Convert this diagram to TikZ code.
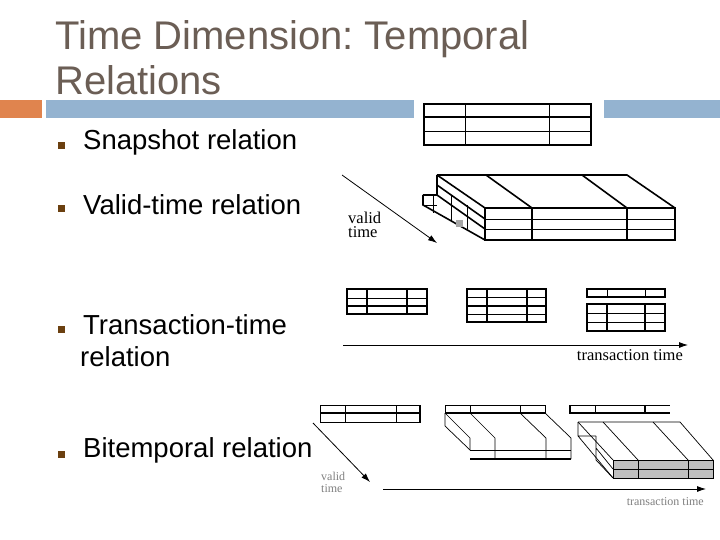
\documentclass[tikz,border=0pt]{standalone}
\usepackage{fontspec}
\setmainfont{Liberation Sans}
\newfontfamily\serifz{Liberation Serif}
\usetikzlibrary{arrows.meta}
\definecolor{titlec}{HTML}{6B5E55}
\definecolor{barblue}{HTML}{94B3D0}
\definecolor{barorange}{HTML}{E0844E}
\definecolor{bulc}{HTML}{6B4010}
\tikzset{
 tb/.style={line width=1.6pt},
 tl/.style={line width=0.7pt},
 bul/.style={fill=bulc,minimum size=7pt,inner sep=0pt},
 item/.style={anchor=west,font=\fontsize{27.5pt}{32pt}\selectfont,align=left,inner sep=0pt},
 lab/.style={font=\serifz\fontsize{16.5pt}{14pt}\selectfont,align=left,inner sep=0pt},
 slab/.style={font=\serifz\fontsize{12pt}{12pt}\selectfont,text=gray,align=left,inner sep=0pt},
 arr/.style={line width=0.8pt,-{Latex[length=9pt,width=6pt]}}
}
\begin{document}
\begin{tikzpicture}[x=1pt,y=-1pt]
\frenchspacing
\useasboundingbox (0,0) rectangle (720,540);
\fill[white] (0,0) rectangle (720,540);
% title
\node[anchor=west,text=titlec,font=\fontsize{40pt}{45pt}\selectfont,align=left,inner sep=0pt] (title) at (55,58) {Time Dimension: Temporal\\Relations};
\fill[barorange] (0,100) rectangle (42,118);
\fill[barblue] (46,100) rectangle (414,118);
\fill[barblue] (604,100) rectangle (720,118);
% bullets
\foreach \y/\t [count=\i] in {142/Snapshot relation,205/Valid-time relation,325/Transaction-time,450/Bitemporal relation}{
 \node[bul] (b\i) at (61,\y+4) {};
 \node[item] (t\i) at (83,\y) {\t};
}
\node[item] (t3b) at (80,357) {relation};
% snapshot table
\draw[tb] (424,104) rectangle (591,145);
\draw[tb] (424,117)--(591,117);
\draw[tl] (424,131)--(591,131);
\draw[tl] (465,104)--(465,145) (549,104)--(549,145);
% valid time relation
\coordinate (va1) at (342,175); \coordinate (va2) at (437,243);
\draw[arr] (va1)--(va2);
\node[lab,anchor=north west] (vl) at (348,212) {valid\\time};
\draw[tb] (485,208) rectangle (675,240);
\draw[tl] (485,219)--(675,219) (485,229)--(675,229);
\draw[tb] (532,208)--(532,240) (627,208)--(627,240);
\draw[tb] (437,175)--(627,175)--(675,208);
\draw[tb] (437,175)--(485,208) (486,175)--(532,208) (582,175)--(627,208);
\draw[tb] (437,175)--(437,195) (437,195)--(485,229) (437,185)--(485,219);
\draw[tb] (423,195) -- (437,195);
\draw[tb] (423,195)--(423,205)--(485,240);
\draw[tl] (423,205)--(437,205);
\draw[tl] (433,195)--(433,213) (451,195)--(451,222) (467,205)--(467,229);
\fill[gray!70] (456,220) rectangle (463,227);
% transaction time relation
\draw[tb] (347,289) rectangle (427,314);
\draw[tb] (347,306)--(427,306); \draw[tl] (347,298)--(427,298);
\draw[tb] (367,289)--(367,314) (407,289)--(407,314);
\draw[tb] (467,289) rectangle (546,322);
\draw[tb] (467,306)--(546,306); \draw[tl] (467,297)--(546,297) (467,314)--(546,314);
\draw[tb] (487,289)--(487,322) (527,289)--(527,322);
\draw[tb] (587,289) rectangle (665,297);
\draw[tl] (607,289)--(607,297) (645,289)--(645,297);
\draw[tb] (587,304) rectangle (665,331);
\draw[tl] (587,313)--(665,313) (587,322)--(665,322);
\draw[tb] (607,304)--(607,331) (645,304)--(645,331);
\coordinate (ta1) at (343,345); \coordinate (ta2) at (688,345);
\draw[arr] (ta1)--(ta2);
\node[lab,anchor=north east] (tl1) at (683,349) {transaction time};
% bitemporal
\draw[tl] (320,405) rectangle (420,422); \draw[tb] (320,413)--(420,413);
\draw[tl] (345,405)--(345,422) (396,405)--(396,422);
\draw[tb] (420,405)--(420,422);
\coordinate (bv1) at (313,423); \coordinate (bv2) at (370,482);
\draw[arr] (bv1)--(bv2);
\node[slab,anchor=north west] (bvl) at (321,472) {valid\\time};
\coordinate (bt1) at (383,489); \coordinate (bt2) at (706,489);
\draw[arr] (bt1)--(bt2);
\node[slab,anchor=north east] (btl) at (704,497) {transaction time};
% table 2
\draw[tl] (445,405) rectangle (545,413);
\draw[tl] (470,405)--(470,413) (520,405)--(520,413);
\draw[tb] (445,413)--(545,413);
\draw[tl] (445,413)--(445,426)--(470,450);
\draw[tl] (445,413)--(470,438)--(470,450);
\draw[tl] (470,413)--(495,438)--(495,459) (520,413)--(546,438)--(546,459) (545,413)--(571,438)--(571,459);
\draw[tl] (470,450)--(571,450);
\draw[tb] (470,459)--(571,459);
% table 3
\draw[tb] (570,405)--(570,413)--(670,413);
\draw[tl] (570,405)--(670,405) (595,405)--(595,413);
\draw[tb] (645,405)--(645,413);
\fill[gray!50] (613,460) rectangle (713,478);
\draw[tl] (613,460) rectangle (713,478);
\draw[tl] (613,469)--(713,469);
\draw[tl] (638,460)--(638,478) (688,460)--(688,478);
\draw[tl] (578,422)--(680,422)--(713,460);
\draw[tl] (603,422)--(638,460) (653,422)--(688,460) (578,422)--(613,460);
\draw[tl] (578,422)--(578,436)--(613,478) (578,436)--(596,436);
\draw[tl] (596,436)--(596,460)--(613,478) (596,448)--(613,469);
\end{tikzpicture}
\end{document}
